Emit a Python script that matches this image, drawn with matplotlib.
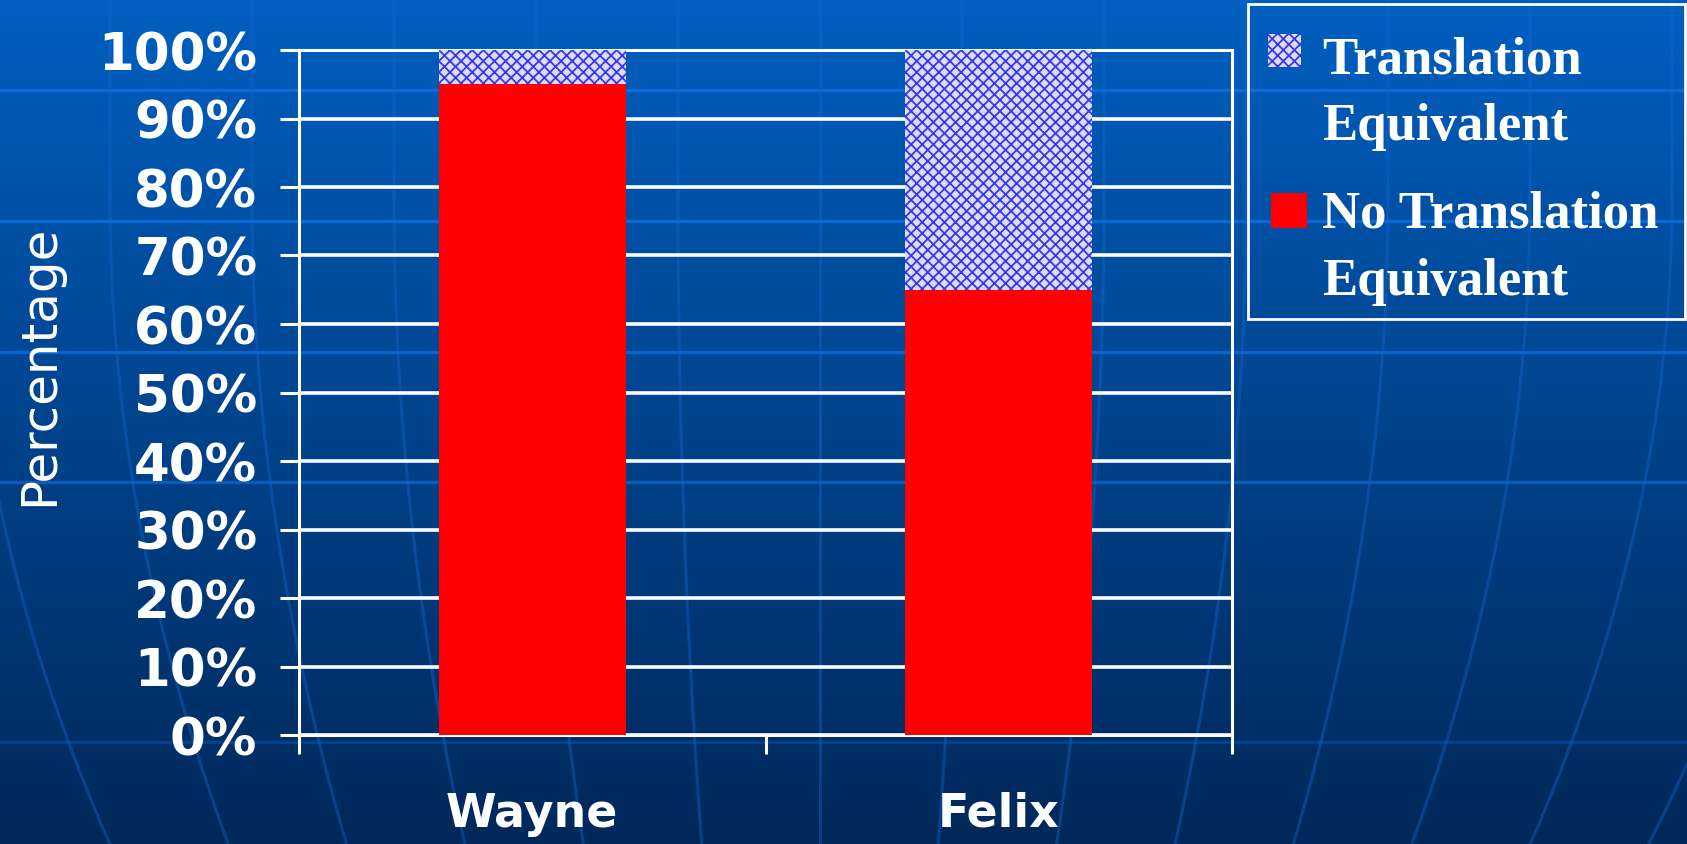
"""
Stacked percentage bars: translation-equivalent vs. no-equivalent words per child.
"""

import matplotlib

matplotlib.use("Agg")
import matplotlib.pyplot as plt
import numpy as np
from matplotlib.patches import Rectangle

speakers = ["Wayne", "Felix"]
series_names = ["Translation Equivalent", "No Translation Equivalent"]
no_equiv_pct = [95, 65]
equiv_pct = [5, 35]
y_ticks = [0, 10, 20, 30, 40, 50, 60, 70, 80, 90, 100]

W, H = 1687, 845
RED = "#ff0000"
HATCH_FACE = "#dcdcf2"
HATCH_LINE = "#3838ee"

plt.rcParams["hatch.linewidth"] = 1.3

fig = plt.figure(figsize=(W / 100, H / 100), dpi=100)

# backdrop axes in pixel units, y pointing down
bg = fig.add_axes([0, 0, 1, 1], zorder=0)
top = np.array([0, 95, 192]) / 255
bottom = np.array([0, 40, 90]) / 255
t = np.linspace(0, 1, 256)[:, None, None]
bg.imshow(top + (bottom - top) * t, extent=(0, W, H, 0), aspect="auto",
          interpolation="bilinear")

# faint globe grid behind everything
for y, a in zip([91, 222, 353, 483, 743], [0.8, 0.8, 0.7, 0.6, 0.3]):
    bg.axhline(y, color="#1070e0", lw=2.4, alpha=a)
ys = np.linspace(0, H, 200)
bend = 1 - 4e-7 * np.clip(ys - 200, 0, None) ** 2
for k in range(-7, 8):
    bg.plot(820 + 142 * k * bend, ys, color="#1268d0", lw=2.2, alpha=0.4)
bg.set_xlim(0, W)
bg.set_ylim(H, 0)
bg.axis("off")

ax = fig.add_axes([299 / W, 1 - 736 / H, 933 / W, 685 / H], zorder=1)
ax.set_facecolor("none")

x = np.arange(len(speakers))
ax.bar(x, no_equiv_pct, width=0.4, color=RED, zorder=3)
ax.bar(x, equiv_pct, bottom=no_equiv_pct, width=0.4, facecolor=HATCH_FACE,
       edgecolor=HATCH_LINE, linewidth=0, hatch="xxx", zorder=3)

ax.set_xlim(-0.5, 1.5)
ax.set_ylim(0, 100)
ax.set_yticks(y_ticks)
ax.set_yticklabels([f"{v}%" for v in y_ticks])
ax.set_xticks(x)
ax.set_xticklabels(speakers)
ax.set_xticks([-0.5, 0.5, 1.5], minor=True)

ax.yaxis.grid(True, color="white", lw=2.6)
ax.set_axisbelow(True)
for side in ["left", "right", "bottom", "top"]:
    ax.spines[side].set_color("white")
    ax.spines[side].set_linewidth(2.2)

ax.tick_params(axis="x", which="major", length=0, pad=40, labelsize=33,
               labelcolor="white")
ax.tick_params(axis="x", which="minor", length=14, width=2.2, color="white")
ax.tick_params(axis="y", length=14, width=2.2, color="white", pad=16,
               labelsize=37, labelcolor="white")
for lbl in ax.get_xticklabels() + ax.get_yticklabels():
    lbl.set_fontweight("bold")

ax.set_ylabel("Percentage", fontsize=36, color="white")
ax.yaxis.set_label_coords(-0.253, 0.5416)

# legend box, drawn by hand so the swatch sits on the first text line
bg.add_patch(Rectangle((1248, 5), 437, 315, fill=False, edgecolor="white",
                       lw=2, zorder=5))
bg.add_patch(Rectangle((1268, 35), 33, 33, facecolor=HATCH_FACE,
                       edgecolor=HATCH_LINE, linewidth=0, hatch="xxx", zorder=5))
bg.add_patch(Rectangle((1271, 194), 36, 35, facecolor=RED, linewidth=0, zorder=5))
for name, baselines in zip(series_names, [(73, 140), (228, 295)]):
    for line, yb in zip(name.rsplit(" ", 1), baselines):
        bg.text(1322, yb, line, color="white", fontsize=38, fontweight="bold",
                family="Liberation Serif", va="baseline", ha="left", zorder=6)

fig.savefig("out.png", dpi=100)
